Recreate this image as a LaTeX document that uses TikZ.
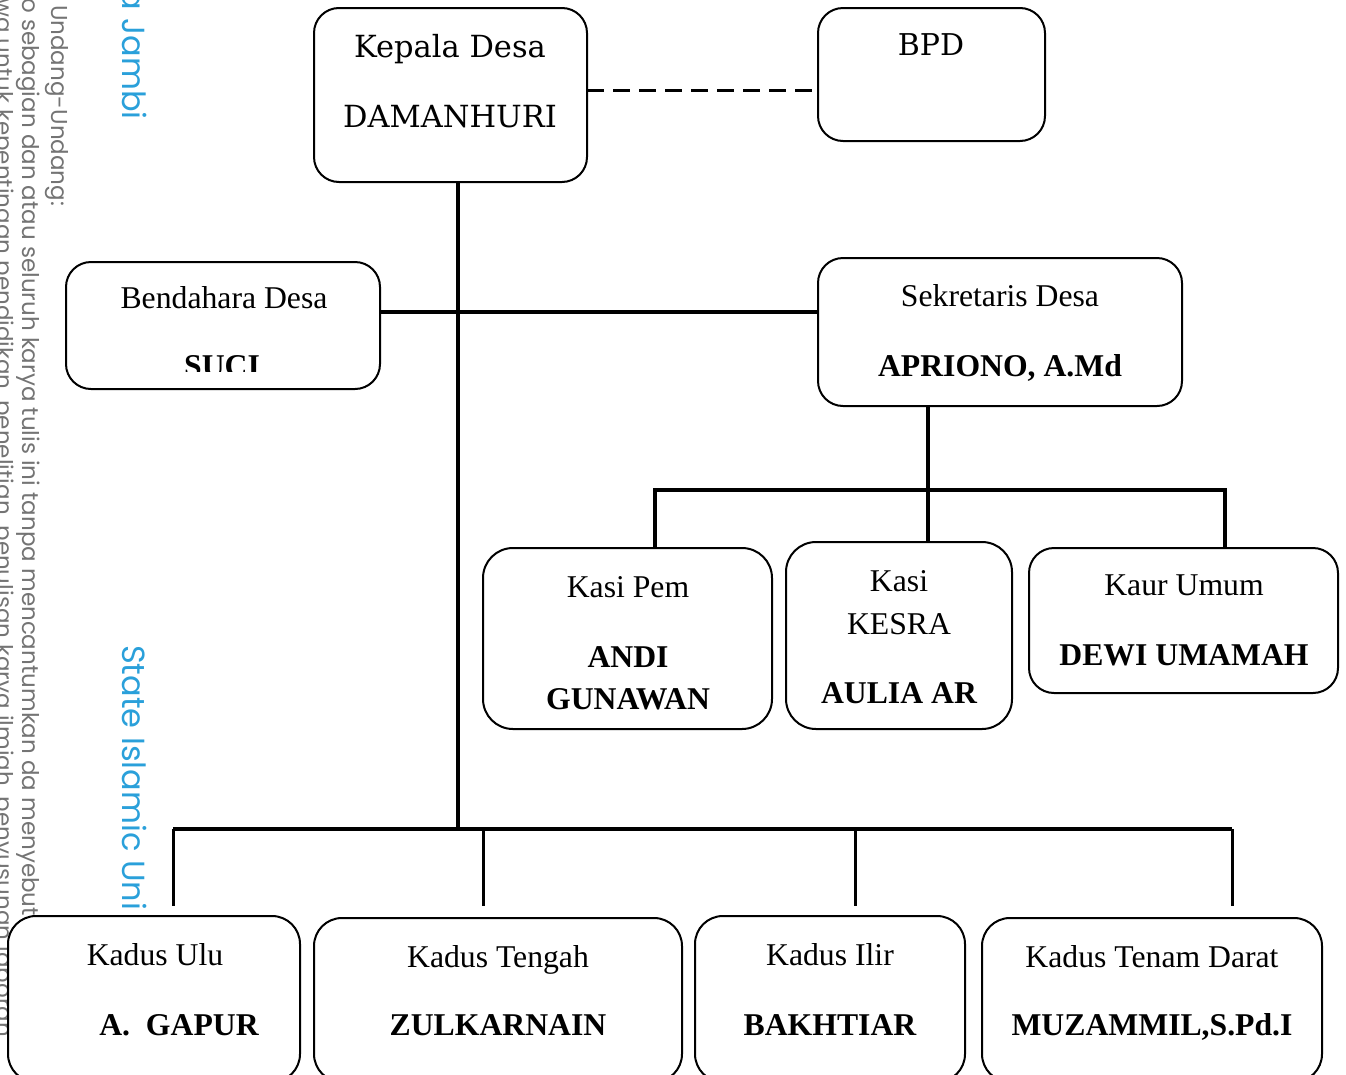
\documentclass[tikz,border=0pt]{standalone}
\usepackage{fontspec}
\setmainfont{Liberation Serif}
\newfontfamily\bookfont{DejaVu Serif}
\newfontfamily\wmfont{Poppins}
\definecolor{wmgray}{HTML}{747474}
\definecolor{wmblue}{HTML}{2AA0DA}
\begin{document}
\begin{tikzpicture}[x=1pt,y=-1pt,
  box/.style={draw,line width=2pt,rounded corners=25pt,fill=white,anchor=north west,inner sep=0pt,outer sep=0pt},
  conn/.style={line width=3.5pt},
  busbar/.style={line width=4.5pt},
  drop/.style={line width=3pt},
  dashline/.style={line width=3pt,dash pattern=on 17pt off 9pt},
  lbl/.style={anchor=base,inner sep=0pt,font=\fontsize{31.7}{38}\selectfont},
  nm/.style={anchor=base,inner sep=0pt,font=\fontsize{31.7}{38}\selectfont\bfseries},
  bk/.style={anchor=base,inner sep=0pt,font=\fontsize{30.5}{36}\bookfont},
  wm/.style={rotate=-90,inner sep=0pt,text=wmgray,font=\fontsize{23}{27}\wmfont},
  wmb/.style={rotate=-90,inner sep=0pt,text=wmblue,font=\fontsize{32}{38}\wmfont},
  ]
\useasboundingbox (0,0) rectangle (1346,1074);
\clip (0,0) rectangle (1346,1074);

% watermark
\node[wm,anchor=base west] (wm1) at (51,5) {Undang-Undang:};
\node[wm,anchor=base west] (wm2) at (23,-2) {o sebagian dan atau seluruh karya tulis ini tanpa mencantumkan da menyebut};
\node[wm,anchor=base west] (wm3) at (-3,-2) {wa untuk kepentingan pendidikan, penelitian, penulisan karya ilmiah, penyusunan laporan};
\node[wmb,anchor=base east] (wm4) at (122,120) {a Jambi};
\node[wmb,anchor=base west] (wm5) at (122,645) {State Islamic Uni};

% boxes
\node[box,minimum width=273pt,minimum height=174pt] (kepala) at (314,8) {};
\node[box,minimum width=227pt,minimum height=133pt] (bpd) at (818,8) {};
\node[box,minimum width=314pt,minimum height=127pt] (bend) at (66,262) {};
\node[box,minimum width=364pt,minimum height=148pt] (sek) at (818,258) {};
\node[box,minimum width=289pt,minimum height=181pt,rounded corners=30pt] (kasipem) at (483,548) {};
\node[box,minimum width=226pt,minimum height=187pt,rounded corners=30pt] (kesra) at (786,542) {};
\node[box,minimum width=309pt,minimum height=145pt] (kaur) at (1029,548) {};
\node[box,minimum width=292pt,minimum height=166pt,rounded corners=28pt] (ulu) at (8,916) {};
\node[box,minimum width=368pt,minimum height=164pt,rounded corners=28pt] (tengah) at (314,918) {};
\node[box,minimum width=270pt,minimum height=166pt,rounded corners=28pt] (ilir) at (695,916) {};
\node[box,minimum width=340pt,minimum height=164pt,rounded corners=28pt] (tenam) at (982,918) {};

% texts
\node[bk] (t1) at (450,57) {Kepala Desa};
\node[bk] (t2) at (450,127) {DAMANHURI};
\node[bk,font=\fontsize{30}{36}\bookfont] (t3) at (931,55) {BPD};
\node[lbl] (t4) at (224,308) {Bendahara Desa};
\begin{scope}
\clip (66,262) rectangle (380,371);
\node[nm] (t5) at (222,376) {SUCI};
\end{scope}
\node[lbl] (t6) at (1000,306) {Sekretaris Desa};
\node[nm] (t7) at (1000,376) {APRIONO, A.Md};
\node[lbl] (t8) at (628,597) {Kasi Pem};
\node[nm] (t9) at (628,667) {ANDI};
\node[nm] (t10) at (628,709) {GUNAWAN};
\node[lbl] (t11) at (899,591) {Kasi};
\node[lbl] (t12) at (899,634) {KESRA};
\node[nm] (t13) at (899,703) {AULIA AR};
\node[lbl] (t14) at (1184,595) {Kaur Umum};
\node[nm] (t15) at (1184,665) {DEWI UMAMAH};
\node[lbl] (t16) at (155,965) {Kadus Ulu};
\node[nm] (t17) at (179,1035) {A.~~GAPUR};
\node[lbl] (t18) at (498,967) {Kadus Tengah};
\node[nm] (t19) at (498,1035) {ZULKARNAIN};
\node[lbl] (t20) at (830,965) {Kadus Ilir};
\node[nm] (t21) at (830,1035) {BAKHTIAR};
\node[lbl] (t22) at (1152,967) {Kadus Tenam Darat};
\node[nm] (t23) at (1152,1035) {MUZAMMIL,S.Pd.I};

% helper coordinates
\coordinate (spine) at (458,0);
\coordinate (dashy) at (0,90);
\coordinate (hbar) at (0,312);
\coordinate (sekx) at (928,0);
\coordinate (midbus) at (0,490);
\coordinate (botbus) at (0,829);
\coordinate (kpx) at (655,0);
\coordinate (kux) at (1225,0);
\coordinate (d1) at (173,906);
\coordinate (d2) at (483,906);
\coordinate (d3) at (855,906);
\coordinate (d4) at (1232,906);

% connectors
\draw[dashline] (kepala.east |- dashy) -- (bpd.west |- dashy);
\draw[conn] (kepala.south -| spine) -- (spine |- botbus);
\draw[conn] (bend.east |- hbar) -- (sek.west |- hbar);
\draw[conn] (sek.south -| sekx) -- (kesra.north -| sekx);
\draw[conn] (kasipem.north -| kpx) -- (kpx |- midbus) -- (kux |- midbus) -- (kaur.north -| kux);
\draw[busbar] (d1 |- botbus) -- (d4 |- botbus);
\draw[drop] (d1 |- botbus) -- (d1);
\draw[drop] (d2 |- botbus) -- (d2);
\draw[drop] (d3 |- botbus) -- (d3);
\draw[drop] (d4 |- botbus) -- (d4);
\end{tikzpicture}
\end{document}
